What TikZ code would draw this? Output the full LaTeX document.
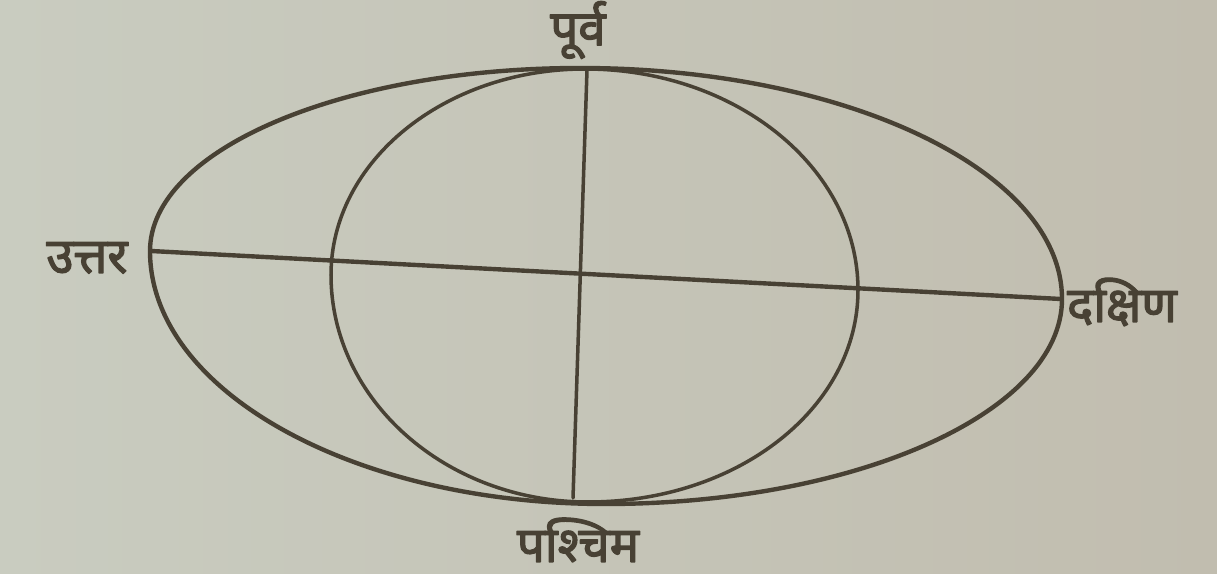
\documentclass[tikz,border=0pt]{standalone}
\usepackage{fontspec}
\newfontfamily\devfont[Script=Devanagari,FakeBold=2.5]{Noto Sans}
\definecolor{paperl}{RGB}{201,204,192}
\definecolor{paperr}{RGB}{193,189,175}
\definecolor{inkc}{RGB}{72,65,52}
\begin{document}
\begin{tikzpicture}[x=0.02cm,y=-0.02cm,line cap=round,line join=round]
\tikzset{ink/.style={draw=inkc,line width=2.5pt},
thin ink/.style={draw=inkc,line width=2pt},
dirlabel/.style={text=inkc,font=\devfont\fontsize{28}{30}\selectfont,inner sep=0pt}
}
\shade[left color=paperl,right color=paperr] (0,0) rectangle (1217,574);
\useasboundingbox (0,0) rectangle (1217,574);
% outer ellipse
\draw[ink] (150,251) .. controls (150,150) and (342,68) .. (580,68)
 .. controls (846,68) and (1062,171) .. (1062,299)
 .. controls (1062,412) and (857,504) .. (605,504)
 .. controls (354,504) and (150,391) .. cycle;
% inner circle
\draw[thin ink] (331,275) .. controls (331,161) and (445,69) .. (585,69)
 .. controls (736,69) and (858,168) .. (858,290)
 .. controls (858,407) and (739,502) .. (588,502)
 .. controls (446,502) and (331,400) .. cycle;
\coordinate (top) at (587,70);
\coordinate (bottom) at (573,498);
\coordinate (left) at (151,251);
\coordinate (right) at (1061,299);
\draw[thin ink] (top)--(bottom);
\draw[ink] (left)--(right);
\node[dirlabel] (purv) at (578,30) {पूर्व};
\node[dirlabel] (uttar) at (87,258) {उत्तर};
\node[dirlabel] (dakshin) at (1122,302) {दक्षिण};
\node[dirlabel] (pashchim) at (578,540) {पश्चिम};
\end{tikzpicture}
\end{document}
